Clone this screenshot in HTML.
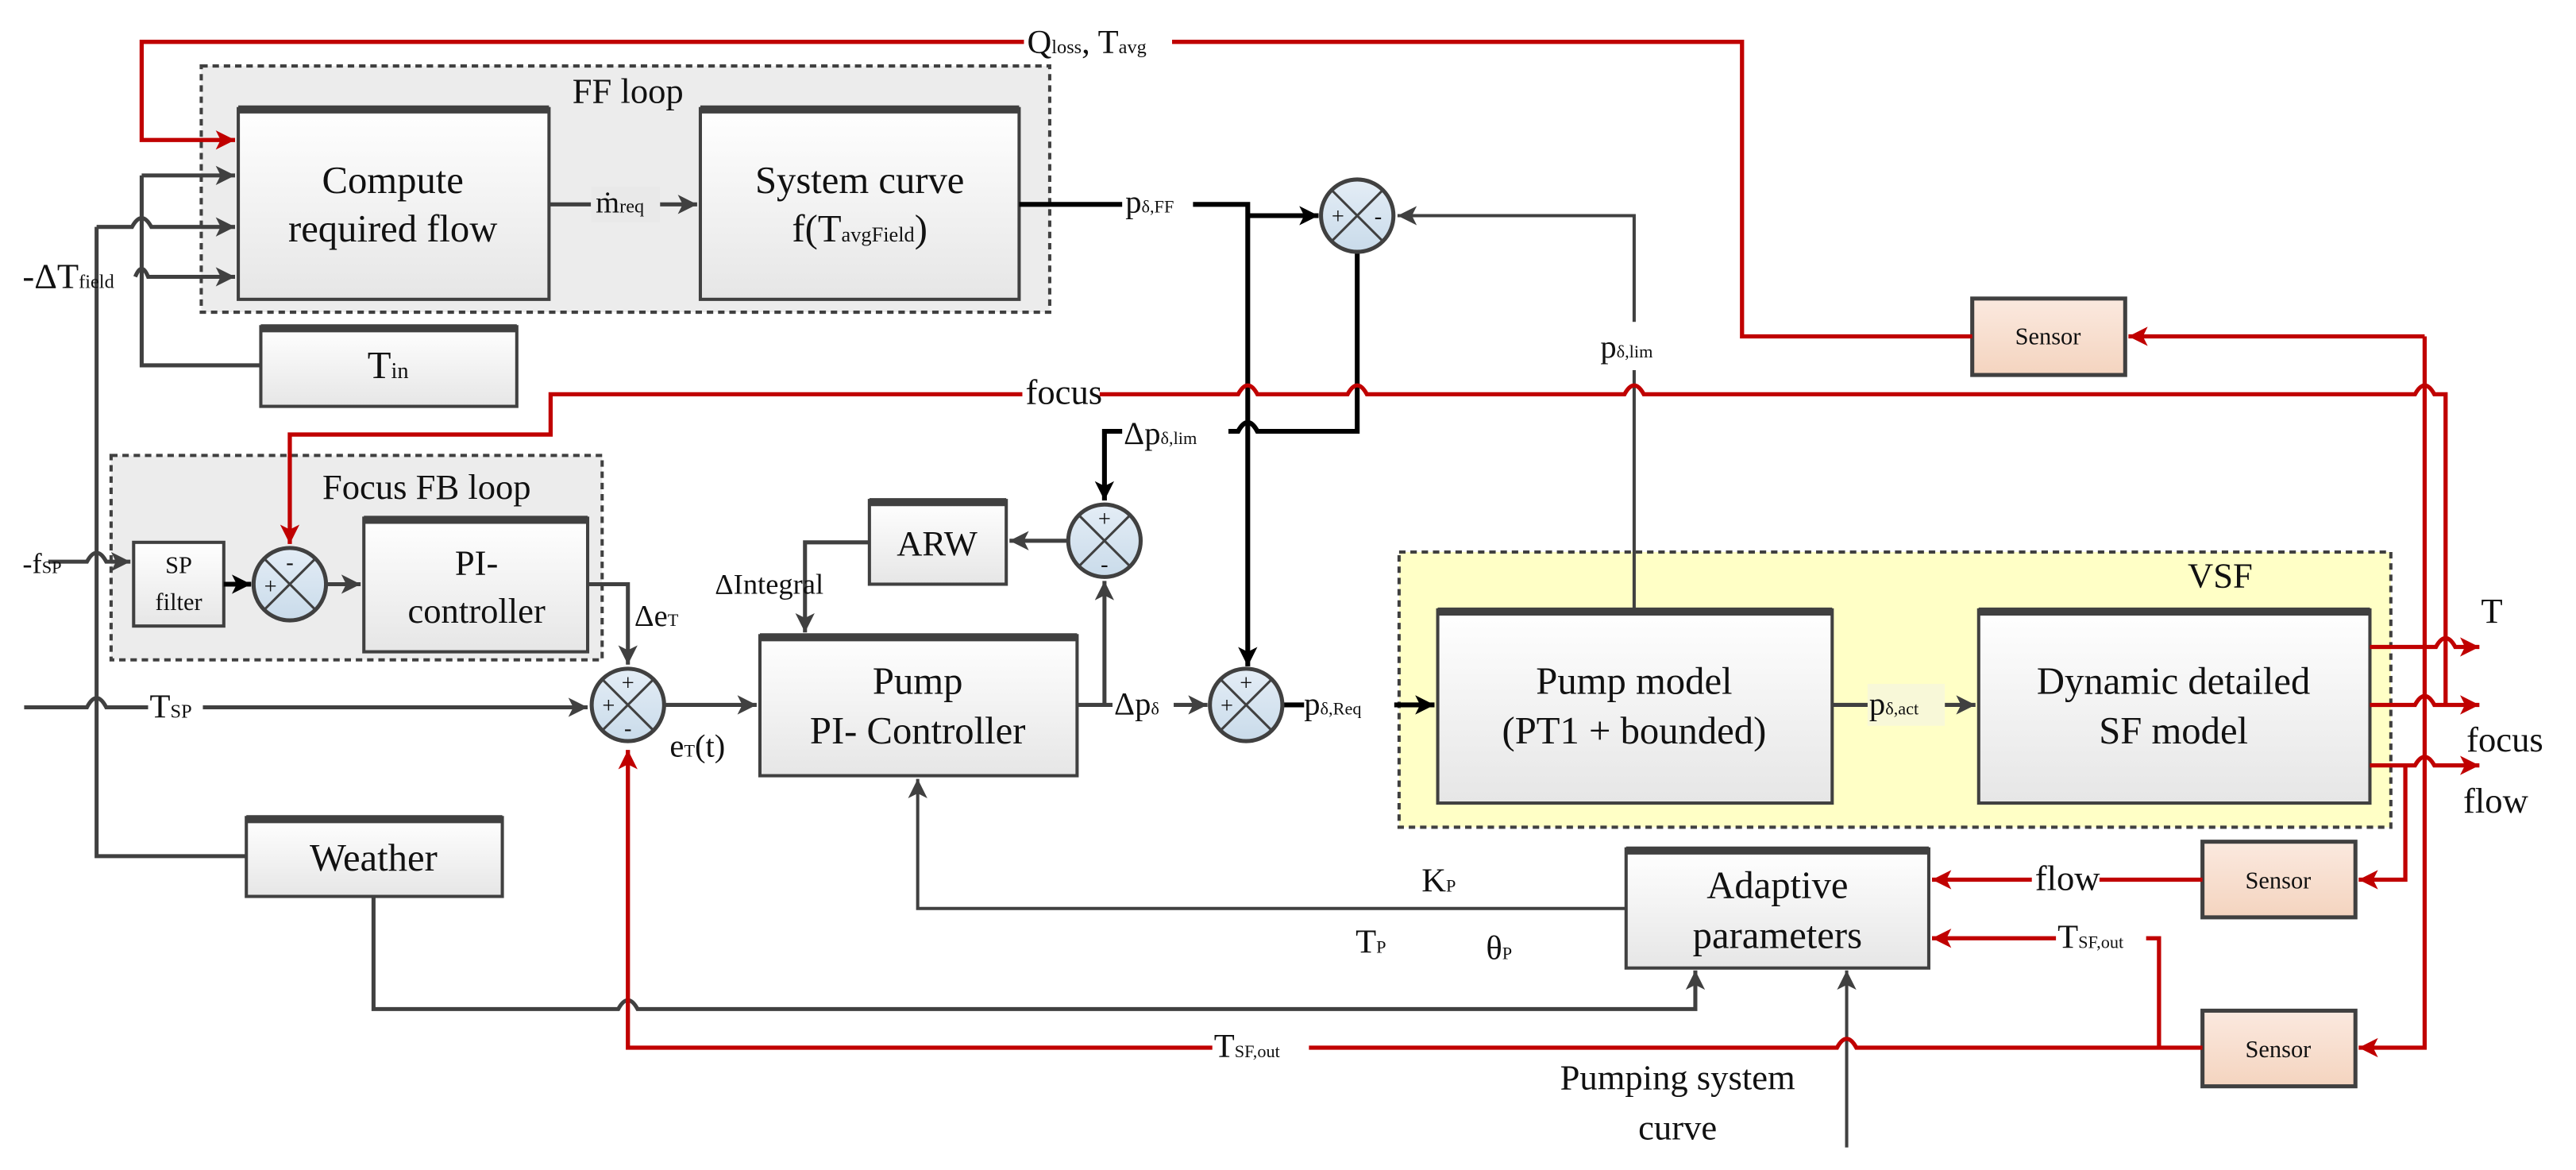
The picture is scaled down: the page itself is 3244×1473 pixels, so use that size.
<!DOCTYPE html>
<html><head><meta charset="utf-8"><style>
html,body{margin:0;padding:0;background:#fff}
svg{display:block}
svg text{font-family:"Liberation Serif","DejaVu Serif",serif;fill:#111}
</style></head><body>
<svg width="3244" height="1473" viewBox="0 0 1600 727" preserveAspectRatio="none" xmlns="http://www.w3.org/2000/svg" font-family="Liberation Serif, DejaVu Serif, serif">
<defs>
<linearGradient id="bg" x1="0" y1="0" x2="0" y2="1"><stop offset="0" stop-color="#ffffff"/><stop offset="1" stop-color="#e6e6e6"/></linearGradient>
<linearGradient id="sg" x1="0" y1="0" x2="0" y2="1"><stop offset="0" stop-color="#fbe9df"/><stop offset="1" stop-color="#f4d4bf"/></linearGradient>
<linearGradient id="cg" x1="0" y1="0" x2="0" y2="1"><stop offset="0" stop-color="#e4edf6"/><stop offset="1" stop-color="#c9dbea"/></linearGradient>
<marker id="ag" markerUnits="userSpaceOnUse" markerWidth="14" markerHeight="14" refX="12" refY="7" orient="auto"><path d="M0,1 L12,7 L0,13 L3,7 Z" fill="#404040"/></marker>
<marker id="ab" markerUnits="userSpaceOnUse" markerWidth="14" markerHeight="14" refX="12" refY="7" orient="auto"><path d="M0,1 L12,7 L0,13 L3,7 Z" fill="#000"/></marker>
<marker id="ar" markerUnits="userSpaceOnUse" markerWidth="14" markerHeight="14" refX="12" refY="7" orient="auto"><path d="M0,1 L12,7 L0,13 L3,7 Z" fill="#c00000"/></marker>
</defs>

<rect x="125" y="41" width="527" height="153" fill="#ececec" stroke="#404040" stroke-width="2" stroke-dasharray="4,3"/>
<text x="390" y="64" font-size="22" text-anchor="middle">FF loop</text>
<rect x="69" y="283" width="305" height="127" fill="#ececec" stroke="#404040" stroke-width="2" stroke-dasharray="4,3"/>
<text x="265" y="310" font-size="22" text-anchor="middle">Focus FB loop</text>
<rect x="869" y="343" width="616" height="171" fill="#ffffc6" stroke="#404040" stroke-width="2" stroke-dasharray="4,3"/>
<text x="1379" y="365" font-size="22" text-anchor="middle">VSF</text>

<g stroke="#404040" stroke-width="2" fill="url(#bg)">
<rect x="148" y="67.5" width="193" height="118.5"/>
<rect x="435" y="67.5" width="198" height="118.5"/>
<rect x="162" y="203" width="159" height="49.5"/>
<rect x="83" y="337" width="56" height="52"/>
<rect x="226" y="322" width="139" height="83"/>
<rect x="540" y="311" width="85" height="52"/>
<rect x="472" y="395" width="197" height="87"/>
<rect x="153" y="508" width="159" height="49"/>
<rect x="893" y="379" width="245" height="120"/>
<rect x="1229" y="379" width="243" height="120"/>
<rect x="1010" y="527.5" width="188" height="74"/>
</g>
<g stroke="#404040" stroke-width="5">
<line x1="148" y1="68" x2="341" y2="68"/><line x1="435" y1="68" x2="633" y2="68"/>
<line x1="162" y1="204" x2="321" y2="204"/><line x1="226" y1="323" x2="365" y2="323"/>
<line x1="540" y1="312" x2="625" y2="312"/><line x1="472" y1="396" x2="669" y2="396"/>
<line x1="153" y1="509" x2="312" y2="509"/><line x1="893" y1="380" x2="1138" y2="380"/>
<line x1="1229" y1="380" x2="1472" y2="380"/><line x1="1010" y1="528.5" x2="1198" y2="528.5"/>
</g>
<g stroke="#404040" stroke-width="2.5" fill="url(#sg)">
<rect x="1225" y="185.5" width="95" height="47.5"/>
<rect x="1368" y="523" width="95" height="47"/>
<rect x="1368" y="628" width="95" height="47"/>
</g>

<g fill="none" stroke="#404040" stroke-width="2.5">
<path d="M88 109 L146 109" marker-end="url(#ag)"/>
<path d="M60 141 L82 141 Q88 130 94 141 L146 141" marker-end="url(#ag)"/>
<path d="M60 141 L60 532 L153 532"/>
<path d="M84 172 Q88 162 92 172 L146 172" marker-end="url(#ag)"/>
<path d="M88 109 L88 227 L162 227"/>
<path d="M341 127 L433 127" marker-end="url(#ag)"/>
<path d="M1015 379 L1015 134 L868 134" marker-end="url(#ag)" stroke-width="2"/>
<path d="M663 336 L627 336" marker-end="url(#ag)"/>
<path d="M540 337 L500 337 L500 393" marker-end="url(#ag)"/>
<path d="M669 438 L750 438" marker-end="url(#ag)"/>
<path d="M686 438 L686 361" marker-end="url(#ag)"/>
<path d="M1138 438 L1227 438" marker-end="url(#ag)"/>
<path d="M30 349 L54 349 Q60 338 66 349 L81 349" marker-end="url(#ag)"/>
<path d="M202 363 L224 363" marker-end="url(#ag)"/>
<path d="M365 363 L390 363 L390 413" marker-end="url(#ag)"/>
<path d="M15 439.5 L54 439.5 Q60 428 66 439.5 L365 439.5" marker-end="url(#ag)"/>
<path d="M413 438 L470 438" marker-end="url(#ag)"/>
<path d="M232 557 L232 627 L384 627 Q390 616 396 627 L1053 627 L1053 603" marker-end="url(#ag)"/>
<path d="M1010 564.5 L570 564.5 L570 484" marker-end="url(#ag)" stroke-width="2"/>
<path d="M1147 713 L1147 603" marker-end="url(#ag)" stroke-width="2"/>
</g>
<g fill="none" stroke="#000" stroke-width="3">
<path d="M633 127 L775 127 L775 414" marker-end="url(#ab)"/>
<path d="M775 134 L819 134" marker-end="url(#ab)"/>
<path d="M843 157 L843 268 L781 268 Q775 257 769 268 L686 268 L686 311" marker-end="url(#ab)"/>
<path d="M796 438 L891 438" marker-end="url(#ab)"/>
<path d="M139 363 L156 363" marker-end="url(#ab)"/>
</g>
<g fill="none" stroke="#c00000" stroke-width="2.6">
<path d="M1225 209 L1082 209 L1082 26 L88 26 L88 87 L146 87" marker-end="url(#ar)"/>
<path d="M1506 209 L1322 209" marker-end="url(#ar)"/>
<path d="M1506 209 L1506 651 L1465 651" marker-end="url(#ar)"/>
<path d="M1519 438 L1519 245 L1512 245 Q1506 234 1500 245 L1021 245 Q1015 234 1009 245 L849 245 Q843 234 837 245 L781 245 Q775 234 769 245 L342 245 L342 270 L180 270 L180 338" marker-end="url(#ar)"/>
<path d="M1472 402 L1513 402 Q1519 391 1525 402 L1540 402" marker-end="url(#ar)"/>
<path d="M1472 438 L1500 438 Q1506 427 1512 438 L1540 438" marker-end="url(#ar)"/>
<path d="M1472 475.6 L1500 475.6 Q1506 465 1512 475.6 L1540 475.6" marker-end="url(#ar)"/>
<path d="M1494 475.6 L1494 546.6 L1465 546.6" marker-end="url(#ar)"/>
<path d="M1368 546.6 L1200 546.6" marker-end="url(#ar)"/>
<path d="M1368 651 L1153 651 Q1147 640 1141 651 L390 651 L390 466" marker-end="url(#ar)"/>
<path d="M1341 651 L1341 583 L1200 583" marker-end="url(#ar)"/>
</g>

<g stroke="#404040" stroke-width="2.5" fill="url(#cg)">
<circle cx="843" cy="134" r="22.5"/><circle cx="686" cy="336" r="22.5"/>
<circle cx="180" cy="363" r="22.5"/><circle cx="390" cy="438" r="22.5"/>
<circle cx="774" cy="438" r="22.5"/>
</g>
<g stroke="#404040" stroke-width="1.5">
<path d="M827 118 L859 150 M859 118 L827 150"/>
<path d="M670 320 L702 352 M702 320 L670 352"/>
<path d="M164 347 L196 379 M196 347 L164 379"/>
<path d="M374 422 L406 454 M406 422 L374 454"/>
<path d="M758 422 L790 454 M790 422 L758 454"/>
</g>
<g font-size="14" text-anchor="middle">
<text x="831" y="139">+</text><text x="856" y="139">-</text>
<text x="686" y="327">+</text><text x="686" y="355">-</text>
<text x="180" y="354">-</text><text x="168" y="369">+</text>
<text x="390" y="429">+</text><text x="378" y="443">+</text><text x="390" y="457">-</text>
<text x="774" y="429">+</text><text x="762" y="443">+</text>
</g>

<g font-size="24" text-anchor="middle">
<text x="244" y="120">Compute</text><text x="244" y="150">required flow</text>
<text x="534" y="120">System curve</text><text x="534" y="150">f(T<tspan font-size="13">avgField</tspan>)</text>
<text x="241" y="235">T<tspan font-size="14">in</tspan></text>
<text x="296" y="357" font-size="22">PI-</text><text x="296" y="387" font-size="22">controller</text>
<text x="582" y="345" font-size="22">ARW</text>
<text x="570" y="431">Pump</text><text x="570" y="462">PI- Controller</text>
<text x="232" y="541">Weather</text>
<text x="1015" y="431">Pump model</text><text x="1015" y="462">(PT1 + bounded)</text>
<text x="1350" y="431">Dynamic detailed</text><text x="1350" y="462">SF model</text>
<text x="1104" y="558">Adaptive</text><text x="1104" y="589">parameters</text>
</g>
<g font-size="15" text-anchor="middle">
<text x="111" y="356">SP</text><text x="111" y="379">filter</text>
<text x="1272" y="214">Sensor</text><text x="1415" y="552">Sensor</text><text x="1415" y="657">Sensor</text>
</g>

<rect x="636" y="12" width="92" height="26" fill="#fff"/>
<text x="638" y="33" font-size="21">Q<tspan font-size="12">loss</tspan>, T<tspan font-size="12">avg</tspan></text>
<rect x="367" y="116" width="43" height="22" fill="#e9e9e9"/>
<text x="370" y="132" font-size="19">ṁ<tspan font-size="12">req</tspan></text>
<rect x="697" y="113" width="44" height="28" fill="#fff"/>
<text x="699" y="132" font-size="20">p<tspan font-size="11">δ,FF</tspan></text>
<text x="14" y="179" font-size="22">-ΔT<tspan font-size="12">field</tspan></text>
<rect x="993" y="200" width="46" height="30" fill="#fff"/>
<text x="994" y="222" font-size="20">p<tspan font-size="11">δ,lim</tspan></text>
<rect x="635" y="232" width="48" height="26" fill="#fff"/>
<text x="637" y="251" font-size="22">focus</text>
<rect x="697" y="257" width="66" height="24" fill="#fff"/>
<text x="698" y="276" font-size="20">Δp<tspan font-size="11">δ,lim</tspan></text>
<text x="444" y="369" font-size="18">ΔIntegral</text>
<text x="14" y="356" font-size="18">-f<tspan font-size="11">SP</tspan></text>
<text x="394" y="389" font-size="19">Δe<tspan font-size="11">T</tspan></text>
<rect x="92" y="427" width="34" height="24" fill="#fff"/>
<text x="93" y="446" font-size="21">T<tspan font-size="12">SP</tspan></text>
<text x="416" y="470" font-size="20">e<tspan font-size="11">T</tspan>(t)</text>
<rect x="691" y="425" width="38" height="26" fill="#fff"/>
<text x="692" y="444" font-size="20">Δp<tspan font-size="11">δ</tspan></text>
<rect x="810" y="425" width="56" height="26" fill="#fff"/>
<text x="810" y="444" font-size="20">p<tspan font-size="11">δ,Req</tspan></text>
<rect x="1160" y="425" width="48" height="26" fill="#f8f8d8"/>
<text x="1161" y="444" font-size="20">p<tspan font-size="11">δ,act</tspan></text>
<text x="1541" y="387" font-size="22">T</text>
<text x="1532" y="467" font-size="22">focus</text>
<text x="1530" y="505" font-size="22">flow</text>
<rect x="1262" y="536" width="42" height="22" fill="#fff"/>
<text x="1264" y="553" font-size="22">flow</text>
<rect x="1277" y="570" width="56" height="26" fill="#fff"/>
<text x="1278" y="589" font-size="21">T<tspan font-size="11">SF,out</tspan></text>
<rect x="753" y="638" width="60" height="26" fill="#fff"/>
<text x="754" y="657" font-size="21">T<tspan font-size="11">SF,out</tspan></text>
<text x="883" y="554" font-size="21">K<tspan font-size="11">P</tspan></text>
<text x="842" y="592" font-size="21">T<tspan font-size="11">P</tspan></text>
<text x="923" y="596" font-size="21">θ<tspan font-size="11">P</tspan></text>
<text x="1042" y="677" font-size="22" text-anchor="middle">Pumping system</text>
<text x="1042" y="708" font-size="22" text-anchor="middle">curve</text>
</svg>
</body></html>
